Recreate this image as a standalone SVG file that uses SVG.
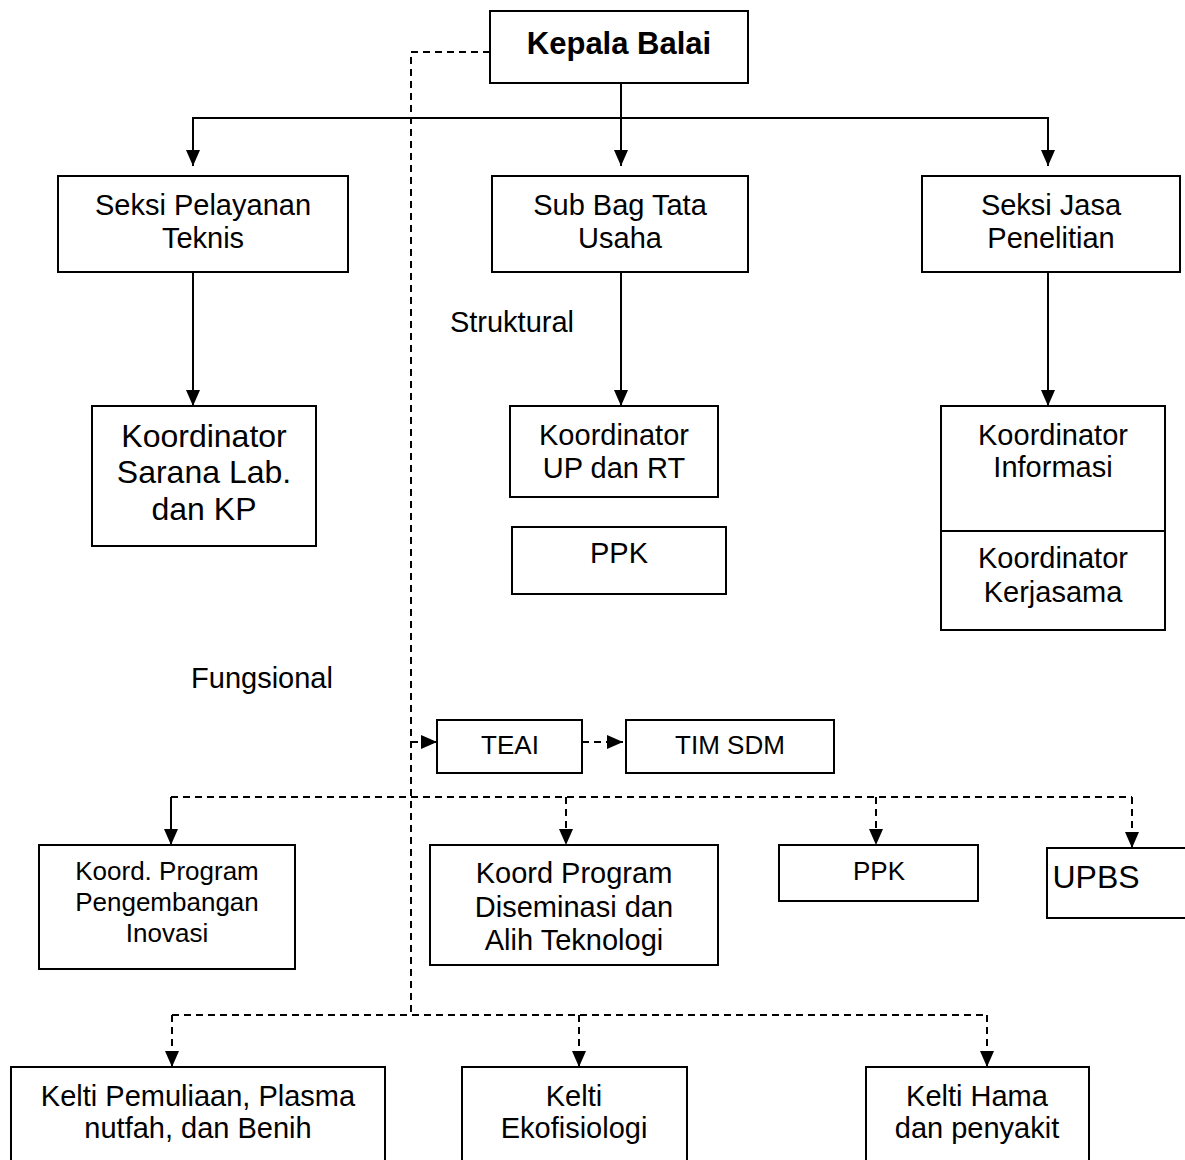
<svg xmlns="http://www.w3.org/2000/svg" width="1185" height="1160" viewBox="0 0 1185 1160">
<style>
  .box { fill: #fff; stroke: #000; stroke-width: 2; }
  .t { font-family: "Liberation Sans", Arial, sans-serif; font-size: 29px; fill: #000; text-anchor: middle; }
  .s { font-size: 26px; }
  .b { font-size: 32px; }
  .bold { font-weight: bold; font-size: 31px; }
  .ln { fill: none; stroke: #000; stroke-width: 2; }
  .dash { fill: none; stroke: #000; stroke-width: 2; stroke-dasharray: 7 5; }
</style>
<defs>
  <marker id="ah" viewBox="0 0 16 14" refX="16" refY="7" markerWidth="16" markerHeight="14" markerUnits="userSpaceOnUse" orient="auto">
    <path d="M0,0 L16,7 L0,14 z" fill="#000"/>
  </marker>
</defs>
<rect width="1185" height="1160" fill="#fff"/>

<g id="connectors">
  <!-- solid -->
  <path class="ln" d="M621,83 V166" marker-end="url(#ah)"/>
  <path class="ln" d="M193,166 V118 H1048 V166"/>
  <path class="ln" d="M193,118 V166" marker-end="url(#ah)"/>
  <path class="ln" d="M1048,118 V166" marker-end="url(#ah)"/>
  <path class="ln" d="M193,272 V406" marker-end="url(#ah)"/>
  <path class="ln" d="M621,272 V406" marker-end="url(#ah)"/>
  <path class="ln" d="M1048,272 V406" marker-end="url(#ah)"/>
  <!-- dashed -->
  <path class="dash" d="M490,52 H411 V1015"/>
  <path class="dash" d="M411,742 H437" marker-end="url(#ah)"/>
  <path class="dash" d="M582,742 H623" marker-end="url(#ah)"/>
  <path class="dash" d="M171,845 V797 H1132"/>
  <path class="dash" d="M171,797 V845" marker-end="url(#ah)"/>
  <path class="dash" d="M566,797 V845" marker-end="url(#ah)"/>
  <path class="dash" d="M876,797 V845" marker-end="url(#ah)"/>
  <path class="dash" d="M1132,797 V848" marker-end="url(#ah)"/>
  <path class="dash" d="M172,1015 H987"/>
  <path class="dash" d="M172,1015 V1067" marker-end="url(#ah)"/>
  <path class="dash" d="M579,1015 V1067" marker-end="url(#ah)"/>
  <path class="dash" d="M987,1015 V1067" marker-end="url(#ah)"/>
</g>

<g id="kepala-balai">
  <rect class="box" x="490" y="11" width="258" height="72"/>
  <text class="t bold" x="619" y="54">Kepala Balai</text>
</g>
<g id="seksi-pelayanan-teknis">
  <rect class="box" x="58" y="176" width="290" height="96"/>
  <text class="t" x="203" y="215">Seksi Pelayanan</text>
  <text class="t" x="203" y="248">Teknis</text>
</g>
<g id="sub-bag-tata-usaha">
  <rect class="box" x="492" y="176" width="256" height="96"/>
  <text class="t" x="620" y="215">Sub Bag Tata</text>
  <text class="t" x="620" y="248">Usaha</text>
</g>
<g id="seksi-jasa-penelitian">
  <rect class="box" x="922" y="176" width="258" height="96"/>
  <text class="t" x="1051" y="215">Seksi Jasa</text>
  <text class="t" x="1051" y="248">Penelitian</text>
</g>
<g id="label-struktural">
  <text class="t" x="512" y="332">Struktural</text>
</g>
<g id="koordinator-sarana">
  <rect class="box" x="92" y="406" width="224" height="140"/>
  <text class="t b" x="204" y="447">Koordinator</text>
  <text class="t b" x="204" y="483">Sarana Lab.</text>
  <text class="t b" x="204" y="520">dan KP</text>
</g>
<g id="koordinator-up-rt">
  <rect class="box" x="510" y="406" width="208" height="91"/>
  <text class="t" x="614" y="445">Koordinator</text>
  <text class="t" x="614" y="478">UP dan RT</text>
</g>
<g id="ppk-struktural">
  <rect class="box" x="512" y="527" width="214" height="67"/>
  <text class="t" x="619" y="563">PPK</text>
</g>
<g id="koordinator-informasi-kerjasama">
  <rect class="box" x="941" y="406" width="224" height="224"/>
  <line class="ln" x1="941" y1="531" x2="1165" y2="531"/>
  <text class="t" x="1053" y="445">Koordinator</text>
  <text class="t" x="1053" y="477">Informasi</text>
  <text class="t" x="1053" y="568">Koordinator</text>
  <text class="t" x="1053" y="602">Kerjasama</text>
</g>
<g id="label-fungsional">
  <text class="t" x="262" y="688">Fungsional</text>
</g>
<g id="teai">
  <rect class="box" x="437" y="720" width="145" height="53"/>
  <text class="t s" x="510" y="754">TEAI</text>
</g>
<g id="tim-sdm">
  <rect class="box" x="626" y="720" width="208" height="53"/>
  <text class="t s" x="730" y="754">TIM SDM</text>
</g>
<g id="koord-program-pengembangan">
  <rect class="box" x="39" y="845" width="256" height="124"/>
  <text class="t s" x="167" y="880">Koord. Program</text>
  <text class="t s" x="167" y="911">Pengembangan</text>
  <text class="t s" x="167" y="942">Inovasi</text>
</g>
<g id="koord-program-diseminasi">
  <rect class="box" x="430" y="845" width="288" height="120"/>
  <text class="t" x="574" y="883">Koord Program</text>
  <text class="t" x="574" y="917">Diseminasi dan</text>
  <text class="t" x="574" y="950">Alih Teknologi</text>
</g>
<g id="ppk-fungsional">
  <rect class="box" x="779" y="845" width="199" height="56"/>
  <text class="t s" x="879" y="880">PPK</text>
</g>
<g id="upbs">
  <rect class="box" x="1047" y="848" width="150" height="70"/>
  <text class="t b" x="1096" y="888">UPBS</text>
</g>
<g id="kelti-pemuliaan">
  <rect class="box" x="11" y="1067" width="374" height="110"/>
  <text class="t" x="198" y="1106">Kelti Pemuliaan, Plasma</text>
  <text class="t" x="198" y="1138">nutfah, dan Benih</text>
</g>
<g id="kelti-ekofisiologi">
  <rect class="box" x="462" y="1067" width="225" height="110"/>
  <text class="t" x="574" y="1106">Kelti</text>
  <text class="t" x="574" y="1138">Ekofisiologi</text>
</g>
<g id="kelti-hama">
  <rect class="box" x="866" y="1067" width="223" height="110"/>
  <text class="t" x="977" y="1106">Kelti Hama</text>
  <text class="t" x="977" y="1138">dan penyakit</text>
</g>
</svg>
